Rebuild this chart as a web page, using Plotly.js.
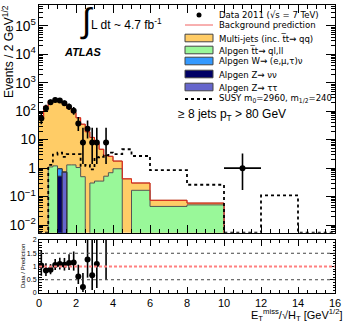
<!DOCTYPE html>
<html>
<head>
<meta charset="utf-8">
<script src="https://cdn.plot.ly/plotly-3.0.1.min.js"></script>
<style>
  body { margin: 0; background: #fff; }
  #plot { width: 349px; height: 323px; }
</style>
</head>
<body>
<div id="plot"></div>
<script>
// bin edges in ETmiss/sqrt(HT) [GeV^1/2]
var edges = [0, 0.25, 0.5, 0.75, 1.0, 1.25, 1.5, 1.75, 2.0, 2.25, 2.5, 2.75, 3.0, 3.25, 3.5, 3.75, 4.0,
             4.5, 5, 6, 8, 10, 12, 14, 16];

// stacked backgrounds, events / 2 GeV^1/2 (one value per bin)
var multijet = [54, 150, 235, 233, 219, 180, 126, 88.7, 58, 34.5, 19, 11.7, 6.95, 4.25, 2.28, 1.91,
                0.82, 0.42, 0.134, 0.029, 0.008, 0, 0, 0];
var ttbar    = [0, 0, 1.1, 1.2, 0, 0, 1.3, 1.3, 1.05, 0.5, 0, 0.3, 0.35, 0.35, 0.52, 0.69,
                0.95, 0, 0.166, 0.045, 0.051, 0, 0, 0];
var wjets    = [0, 0, 0, 0, 0.43, 0, 0, 0, 0, 0, 0, 0, 0, 0, 0, 0, 0, 0, 0, 0, 0, 0, 0, 0];
var znunu    = [0, 0, 0, 0, 0.52, 0, 0, 0, 0, 0, 0, 0, 0, 0, 0, 0, 0, 0, 0, 0, 0, 0, 0, 0];
var ztautau  = [0, 0, 0, 0, 0, 0.72, 0, 0, 0, 0, 0, 0, 0, 0, 0, 0, 0, 0, 0, 0, 0, 0, 0, 0];

// SUSY m0=2960, m1/2=240
var susy = [0, 0, 1.3, 3.0, 3.5, 2.5, 3.1, 3.1, 3.1, 1.2, 1.3, 0.9, 2.4, 2.5, 2.8, 3.5,
            3.1, 4.6, 2.67, 0.85, 0.26, 0, 0.11, 0];

// data 2011 (null = empty bin) and its error bars
var dataY  = [56, 128, 208, 248, 240, 192, 144, 104, 37, 8, 24, 8, 8, null, 8, null,
              null, null, null, null, null, 1, null, null];
var dataUp = [30, 41, 49, 53, 52, 47, 42, 37, 26, 18.4, 23, 18.4, 18.4, null, 18.4, null,
              null, null, null, null, null, 2.3, null, null];
var dataDn = [21, 32, 41, 44, 44, 39, 34, 28, 17, 6.6, 13, 6.6, 6.6, null, 6.6, null,
              null, null, null, null, null, 0.83, null, null];

var legendLabels = [
  "Data 2011 (\u221As = 7 TeV)",
  "Background prediction",
  "Multi-jets (inc. t\u0305t\u2192 qq)",
  "Alpgen t\u0305t\u2192 ql,ll",
  "Alpgen W\u2192 (e,\u03bc,\u03c4)\u03bd",
  "Alpgen Z\u2192 \u03bd\u03bd",
  "Alpgen Z\u2192 \u03c4\u03c4",
  "SUSY m<sub>0</sub>=2960, m<sub>1/2</sub>=240"
];

var cOrange = "#ffcc66", cGreen = "#99f899", cLBlue = "#3399ff", cNavy = "#000066", cSlate = "#6666cc";
var FONT = "Liberation Sans, Arial, sans-serif";
var NARROW = "Liberation Sans Narrow, Arial Narrow, DejaVu Sans Condensed, Liberation Sans, sans-serif";

// cumulative stack (bottom: Z->tautau, top: multijet)
var nb = edges.length - 1;
var c1 = [], c2 = [], c3 = [], c4 = [], c5 = [];
for (var i = 0; i < nb; i++) {
  c1[i] = ztautau[i];
  c2[i] = c1[i] + znunu[i];
  c3[i] = c2[i] + wjets[i];
  c4[i] = c3[i] + ttbar[i];
  c5[i] = c4[i] + multijet[i];
}

var yLog = [-2.27, 5.735];
function step(vals, floor) {
  var x = edges.slice(), y = [];
  for (var i = 0; i < nb; i++) y.push(vals[i] > 0 ? vals[i] : floor);
  y.push(y[nb - 1]);
  return {x: x, y: y};
}
function stackTrace(vals, fillc, linec) {
  var s = step(vals, 1e-6);
  return {x: s.x, y: s.y, type: "scatter", mode: "lines", line: {shape: "hv", color: linec, width: 1},
          fill: "tozeroy", fillcolor: fillc, xaxis: "x", yaxis: "y", hoverinfo: "skip", showlegend: false};
}

var traces = [];
traces.push(stackTrace(c5, cOrange, "#8a6a3a"));
traces.push(stackTrace(c4, cGreen, "#555555"));
traces.push(stackTrace(c3, cLBlue, "#333333"));
traces.push(stackTrace(c2, cNavy, "#333333"));
traces.push(stackTrace(c1, cSlate, "#333333"));

// background prediction line
var tot = step(c5, 1e-6);
traces.push({x: tot.x, y: tot.y, type: "scatter", mode: "lines", line: {shape: "hv", color: "#e8201a", width: 1},
             xaxis: "x", yaxis: "y", showlegend: false, hoverinfo: "skip"});

// SUSY dotted
var su = step(susy, Math.pow(10, yLog[0]));
traces.push({x: su.x, y: su.y, type: "scatter", mode: "lines", line: {shape: "hv", color: "#000", width: 1.8, dash: "dot"},
             xaxis: "x", yaxis: "y", showlegend: false, hoverinfo: "skip"});

// data points + ratio
var dx = [], dy = [], dup = [], ddn = [], dex = [];
var rx = [], ry = [], rup = [], rdn = [];
for (var i = 0; i < nb; i++) {
  if (dataY[i] == null) continue;
  var xc = (edges[i] + edges[i + 1]) / 2;
  var w = edges[i + 1] - edges[i];
  dx.push(xc); dy.push(dataY[i]); dup.push(dataUp[i]); ddn.push(dataDn[i]);
  dex.push(w > 1 ? w / 2 : 0);
  if (c5[i] > 0) {
    rx.push(xc); ry.push(dataY[i] / c5[i]);
    rup.push(dataUp[i] / c5[i]); rdn.push(dataDn[i] / c5[i]);
  }
}
traces.push({x: dx, y: dy, type: "scatter", mode: "markers", xaxis: "x", yaxis: "y",
  marker: {color: "#000", size: 6},
  error_y: {type: "data", symmetric: false, array: dup, arrayminus: ddn, color: "#000", thickness: 1.6, width: 0},
  error_x: {type: "data", array: dex, color: "#000", thickness: 1.6, width: 0},
  showlegend: false, hoverinfo: "skip"});

traces.push({x: rx, y: ry, type: "scatter", mode: "markers", xaxis: "x2", yaxis: "y2",
  marker: {color: "#000", size: 6},
  error_y: {type: "data", symmetric: false, array: rup, arrayminus: rdn, color: "#000", thickness: 1.6, width: 0},
  showlegend: false, hoverinfo: "skip"});

// page geometry helpers (pixel -> paper)
var L = 39, R = 14, T = 5, B = 30, W = 349, H = 323;
function px(x) { return (x - L) / (W - L - R); }
function py(y) { return (H - B - y) / (H - T - B); }

var shapes = [
  {type: "line", xref: "x2", yref: "y2", x0: 0, x1: 16, y0: 0.5, y1: 0.5, line: {color: "#444", width: 1, dash: "dot"}},
  {type: "line", xref: "x2", yref: "y2", x0: 0, x1: 16, y0: 1.5, y1: 1.5, line: {color: "#444", width: 1, dash: "dot"}},
  {type: "line", xref: "x2", yref: "y2", x0: 0, x1: 16, y0: 1, y1: 1, line: {color: "#ff8080", width: 2, dash: "3px,2px"}}
];
var annotations = [];

// legend
var legY = [15, 25, 38, 50, 61, 74, 87, 99];
var boxCols = [null, null, cOrange, cGreen, cLBlue, cNavy, cSlate, null];
shapes.push({type: "circle", xref: "paper", yref: "paper", x0: px(196.5), x1: px(201.5), y0: py(legY[0] - 2.5), y1: py(legY[0] + 2.5),
             fillcolor: "#000", line: {color: "#000", width: 0}});
shapes.push({type: "line", xref: "paper", yref: "paper", x0: px(185), x1: px(213), y0: py(legY[1]), y1: py(legY[1]),
             line: {color: "#f06060", width: 1}});
for (var k = 2; k < 7; k++) {
  shapes.push({type: "rect", xref: "paper", yref: "paper", x0: px(185), x1: px(213), y0: py(legY[k] - 3.8), y1: py(legY[k] + 3.8),
               fillcolor: boxCols[k], line: {color: "#444", width: 1}});
}
shapes.push({type: "line", xref: "paper", yref: "paper", x0: px(185), x1: px(213), y0: py(legY[7]), y1: py(legY[7]),
             line: {color: "#000", width: 1.8, dash: "dot"}});
for (var k = 0; k < legendLabels.length; k++) {
  annotations.push({xref: "paper", yref: "paper", x: px(217), y: py(legY[k]), xanchor: "left", yanchor: "middle",
                    text: legendLabels[k], showarrow: false, font: {family: NARROW, size: 9.5, color: "#000"}});
}

annotations.push({xref: "paper", yref: "paper", x: px(78), y: py(20), xanchor: "left", yanchor: "middle",
  text: "\u222b", showarrow: false, font: {family: FONT, size: 34, color: "#000"}});
annotations.push({xref: "paper", yref: "paper", x: px(89), y: py(24), xanchor: "left", yanchor: "middle",
  text: "L dt ~ 4.7 fb<sup>-1</sup>", showarrow: false, font: {family: FONT, size: 12, color: "#000"}});
annotations.push({xref: "paper", yref: "paper", x: px(62), y: py(52), xanchor: "left", yanchor: "middle",
  text: "<b><i>ATLAS</i></b>", showarrow: false, font: {family: FONT, size: 11, color: "#000"}});
annotations.push({xref: "paper", yref: "paper", x: px(176), y: py(115), xanchor: "left", yanchor: "middle",
  text: "\u2265 8 jets p<sub>T</sub> > 80 GeV", showarrow: false, font: {family: FONT, size: 12, color: "#000"}});
annotations.push({xref: "paper", yref: "paper", x: px(8), y: py(52), xanchor: "center", yanchor: "middle", textangle: -90,
  text: "Events / 2 GeV<sup>1/2</sup>", showarrow: false, font: {family: FONT, size: 12, color: "#000"}});
annotations.push({xref: "paper", yref: "paper", x: px(23), y: py(266), xanchor: "center", yanchor: "middle", textangle: -90,
  text: "Data / Prediction", showarrow: false, font: {family: FONT, size: 6, color: "#000"}});
annotations.push({xref: "paper", yref: "paper", x: px(344), y: py(315.3), xanchor: "right", yanchor: "middle",
  text: "E<sub>T</sub><sup>miss</sup>/\u221AH<sub>T</sub> [GeV<sup>1/2</sup>]", showarrow: false, font: {family: FONT, size: 11, color: "#000"}});

var axCommon = {linecolor: "#000", linewidth: 1, mirror: "allticks", ticks: "inside", tickcolor: "#000",
                showgrid: false, zeroline: false, showline: true};

var layout = {
  width: W, height: H,
  margin: {l: L, r: R, t: T, b: B},
  paper_bgcolor: "#fff", plot_bgcolor: "rgba(0,0,0,0)",
  showlegend: false,
  xaxis: Object.assign({}, axCommon, {range: [0, 16], dtick: 2, ticklen: 8, showticklabels: false, anchor: "y",
         minor: {dtick: 0.5, ticklen: 4, ticks: "inside", tickcolor: "#000"}}),
  yaxis: Object.assign({}, axCommon, {type: "log", range: yLog, dtick: 1, ticklen: 9, exponentformat: "power",
         domain: [0.2094, 1], anchor: "x", tickfont: {family: FONT, size: 11, color: "#000"},
         minor: {dtick: "D1", ticklen: 4, ticks: "inside", tickcolor: "#000"}}),
  xaxis2: Object.assign({}, axCommon, {range: [0, 16], dtick: 2, ticklen: 6, anchor: "y2",
         tickfont: {family: FONT, size: 11, color: "#000"},
         minor: {dtick: 0.5, ticklen: 3, ticks: "inside", tickcolor: "#000"}}),
  yaxis2: Object.assign({}, axCommon, {range: [0, 2], tickvals: [0, 0.5, 1, 1.5, 2], ticktext: ["0", "0.5", "1", "1.5", "2"],
         ticklen: 5, domain: [0, 0.184], anchor: "x2", tickfont: {family: FONT, size: 7, color: "#000"},
         minor: {dtick: 0.1, ticklen: 2.5, ticks: "inside", tickcolor: "#000"}}),
  shapes: shapes,
  annotations: annotations
};

Plotly.newPlot("plot", traces, layout, {staticPlot: true});
</script>
</body>
</html>
